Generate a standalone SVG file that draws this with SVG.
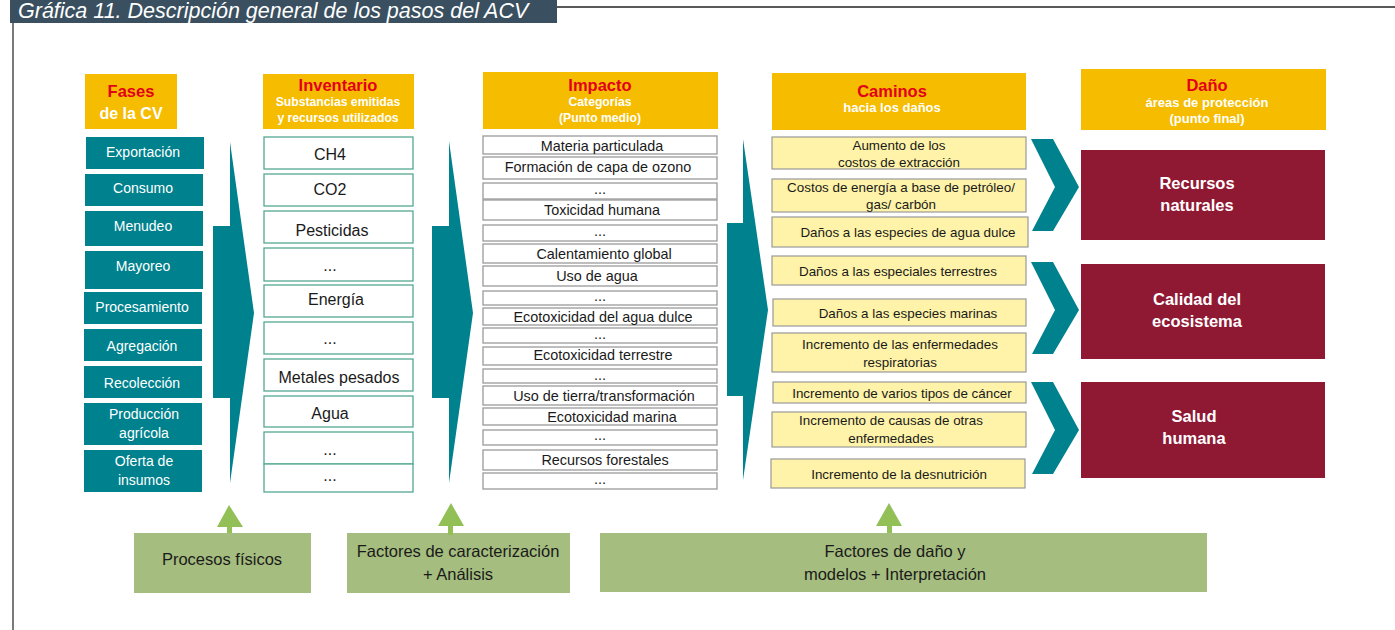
<svg xmlns="http://www.w3.org/2000/svg" width="1395" height="630" viewBox="0 0 1395 630">
<style>
text{font-family:"Liberation Sans",Arial,sans-serif;text-anchor:middle}
.hd{fill:#F5BC00}
.hr{fill:#E3001B;font-weight:bold;font-size:16.5px}
.hw{fill:#fff;font-weight:bold;font-size:12.2px}
.hw3{fill:#fff;font-weight:bold;font-size:13px}
.hw2{fill:#fff;font-weight:bold;font-size:16px}
.fase{fill:#00818E}
.ft{fill:#fff;font-size:14px}
.inv{fill:#fff;stroke:#55A891;stroke-width:1.3}
.it{fill:#1a1a1a;font-size:16px}
.imp{fill:#fff;stroke:#9a9a9a;stroke-width:1.3}
.mt{fill:#1a1a1a;font-size:14.4px}
.cam{fill:#FEF3A8;stroke:#999;stroke-width:1.2}
.ct{fill:#1a1a1a;font-size:13.4px}
.dan{fill:#8F1833}
.dt{fill:#fff;font-weight:bold;font-size:16.5px}
.big{fill:#00818E}
.grn{fill:#A5BD7E}
.gt{fill:#1a1a1a;font-size:16.5px}
.ga{fill:#92C057}
</style>
<rect width="1395" height="630" fill="#fff"/>
<g id="frame">
<rect x="10" y="0" width="547" height="23" fill="#3A5060"/>
<text x="18" y="18" style="text-anchor:start;font-style:italic;font-size:21.5px;fill:#fff">Gráfica 11. Descripción general de los pasos del ACV</text>
<line x1="557" y1="7" x2="1395" y2="7" stroke="#222" stroke-width="1.3"/>
<line x1="13" y1="23" x2="13" y2="630" stroke="#333" stroke-width="1.3"/>
</g>
<g id="headers">
<g id="h-fases"><rect class="hd" x="85" y="74" width="92" height="55"/><text class="hr" x="131" y="97">Fases</text><text class="hw2" x="131" y="119">de la CV</text></g>
<g id="h-inv"><rect class="hd" x="263" y="74" width="151" height="55"/><text class="hr" x="338" y="91">Inventario</text><text class="hw" x="338" y="106">Substancias emitidas</text><text class="hw" x="338" y="122">y recursos utilizados</text></g>
<g id="h-imp"><rect class="hd" x="483" y="72" width="235" height="57"/><text class="hr" x="600" y="91">Impacto</text><text class="hw" x="600" y="106">Categorías</text><text class="hw" x="600" y="122">(Punto medio)</text></g>
<g id="h-cam"><rect class="hd" x="772" y="73" width="254" height="57"/><text class="hr" x="892" y="97">Caminos</text><text class="hw3" x="892" y="112">hacia los daños</text></g>
<g id="h-dan"><rect class="hd" x="1081" y="69" width="245" height="61"/><text class="hr" x="1207" y="91">Daño</text><text class="hw3" x="1207" y="107">áreas de protección</text><text class="hw3" x="1207" y="123">(punto final)</text></g>
</g>
<g id="fases">
<g id="f1"><rect class="fase" x="86" y="137" width="118" height="32"/><text class="ft" x="143" y="157">Exportación</text></g>
<g id="f2"><rect class="fase" x="85" y="174" width="118" height="32"/><text class="ft" x="143" y="193">Consumo</text></g>
<g id="f3"><rect class="fase" x="85" y="211" width="118" height="35"/><text class="ft" x="143" y="231">Menudeo</text></g>
<g id="f4"><rect class="fase" x="85" y="251" width="118" height="38"/><text class="ft" x="143" y="271">Mayoreo</text></g>
<g id="f5"><rect class="fase" x="84" y="292" width="118" height="32"/><text class="ft" x="142" y="312">Procesamiento</text></g>
<g id="f6"><rect class="fase" x="84" y="329" width="118" height="32"/><text class="ft" x="142" y="351">Agregación</text></g>
<g id="f7"><rect class="fase" x="84" y="366" width="118" height="32"/><text class="ft" x="142" y="388">Recolección</text></g>
<g id="f8"><rect class="fase" x="84" y="403" width="118" height="42"/><text class="ft" x="144" y="419">Producción</text><text class="ft" x="144" y="438">agrícola</text></g>
<g id="f9"><rect class="fase" x="84" y="450" width="118" height="42"/><text class="ft" x="144" y="466">Oferta de</text><text class="ft" x="144" y="485">insumos</text></g>
</g>
<g id="inventario">
<g id="i1"><rect class="inv" x="264" y="137" width="149" height="32"/><text class="it" x="330" y="160">CH4</text></g>
<g id="i2"><rect class="inv" x="264" y="174" width="149" height="32"/><text class="it" x="330" y="195">CO2</text></g>
<g id="i3"><rect class="inv" x="264" y="211" width="149" height="32"/><text class="it" x="332" y="236">Pesticidas</text></g>
<g id="i4"><rect class="inv" x="264" y="248" width="149" height="33"/><text class="it" x="330" y="271">...</text></g>
<g id="i5"><rect class="inv" x="264" y="285" width="149" height="32"/><text class="it" x="336" y="305">Energía</text></g>
<g id="i6"><rect class="inv" x="264" y="322" width="149" height="32"/><text class="it" x="330" y="344">...</text></g>
<g id="i7"><rect class="inv" x="264" y="359" width="149" height="32"/><text class="it" x="339" y="383">Metales pesados</text></g>
<g id="i8"><rect class="inv" x="264" y="396" width="149" height="31"/><text class="it" x="330" y="419">Agua</text></g>
<g id="i9"><rect class="inv" x="264" y="432" width="149" height="32"/><text class="it" x="330" y="455">...</text></g>
<g id="i10"><rect class="inv" x="264" y="464" width="149" height="28"/><text class="it" x="330" y="481">...</text></g>
</g>
<g id="impacto">
<g id="m1"><rect class="imp" x="483" y="136" width="234" height="18"/><text class="mt" x="602" y="151">Materia particulada</text></g>
<g id="m2"><rect class="imp" x="483" y="157" width="234" height="22"/><text class="mt" x="598" y="172">Formación de capa de ozono</text></g>
<g id="m3"><rect class="imp" x="483" y="183" width="234" height="16"/><text class="mt" x="600" y="194">...</text></g>
<g id="m4"><rect class="imp" x="483" y="200" width="234" height="20"/><text class="mt" x="602" y="215">Toxicidad humana</text></g>
<g id="m5"><rect class="imp" x="483" y="225" width="234" height="16"/><text class="mt" x="600" y="236">...</text></g>
<g id="m6"><rect class="imp" x="483" y="244" width="234" height="19"/><text class="mt" x="604" y="259">Calentamiento global</text></g>
<g id="m7"><rect class="imp" x="483" y="266" width="234" height="20"/><text class="mt" x="597" y="281">Uso de agua</text></g>
<g id="m8"><rect class="imp" x="483" y="291" width="234" height="14"/><text class="mt" x="600" y="301">...</text></g>
<g id="m9"><rect class="imp" x="483" y="308" width="234" height="17"/><text class="mt" x="603" y="322">Ecotoxicidad del agua dulce</text></g>
<g id="m10"><rect class="imp" x="483" y="328" width="234" height="15"/><text class="mt" x="600" y="339">...</text></g>
<g id="m11"><rect class="imp" x="483" y="347" width="234" height="18"/><text class="mt" x="603" y="360">Ecotoxicidad terrestre</text></g>
<g id="m12"><rect class="imp" x="483" y="369" width="234" height="14"/><text class="mt" x="600" y="380">...</text></g>
<g id="m13"><rect class="imp" x="483" y="386" width="234" height="19"/><text class="mt" x="604" y="401">Uso de tierra/transformación</text></g>
<g id="m14"><rect class="imp" x="483" y="408" width="234" height="17"/><text class="mt" x="612" y="422">Ecotoxicidad marina</text></g>
<g id="m15"><rect class="imp" x="483" y="430" width="234" height="15"/><text class="mt" x="600" y="440">...</text></g>
<g id="m16"><rect class="imp" x="483" y="450" width="234" height="20"/><text class="mt" x="605" y="465">Recursos forestales</text></g>
<g id="m17"><rect class="imp" x="483" y="473" width="234" height="16"/><text class="mt" x="600" y="484">...</text></g>
</g>
<g id="caminos">
<g id="c1"><rect class="cam" x="772" y="137" width="254" height="32"/><text class="ct" x="899" y="150">Aumento de los</text><text class="ct" x="899" y="167">costos de extracción</text></g>
<g id="c2"><rect class="cam" x="772" y="179" width="254" height="33"/><text class="ct" x="901" y="192">Costos de energía a base de petróleo/</text><text class="ct" x="901" y="209">gas/ carbón</text></g>
<g id="c3"><rect class="cam" x="772" y="217" width="256" height="30"/><text class="ct" x="908" y="237">Daños a las especies de agua dulce</text></g>
<g id="c4"><rect class="cam" x="772" y="256" width="254" height="29"/><text class="ct" x="898" y="276">Daños a las especiales terrestres</text></g>
<g id="c5"><rect class="cam" x="773" y="299" width="253" height="27"/><text class="ct" x="908" y="318">Daños a las especies marinas</text></g>
<g id="c6"><rect class="cam" x="772" y="333" width="254" height="39"/><text class="ct" x="900" y="349">Incremento de las enfermedades</text><text class="ct" x="900" y="367">respiratorias</text></g>
<g id="c7"><rect class="cam" x="773" y="382" width="253" height="21"/><text class="ct" x="902" y="398">Incremento de varios tipos de cáncer</text></g>
<g id="c8"><rect class="cam" x="772" y="412" width="254" height="35"/><text class="ct" x="891" y="425">Incremento de causas de otras</text><text class="ct" x="891" y="443">enfermedades</text></g>
<g id="c9"><rect class="cam" x="771" y="459" width="254" height="29"/><text class="ct" x="899" y="479">Incremento de la desnutrición</text></g>
</g>
<g id="danos">
<g id="d1"><rect class="dan" x="1081" y="150" width="244" height="90"/><text class="dt" x="1197" y="189">Recursos</text><text class="dt" x="1197" y="211">naturales</text></g>
<g id="d2"><rect class="dan" x="1081" y="264" width="244" height="95"/><text class="dt" x="1197" y="305">Calidad del</text><text class="dt" x="1197" y="327">ecosistema</text></g>
<g id="d3"><rect class="dan" x="1081" y="382" width="244" height="96"/><text class="dt" x="1194" y="422">Salud</text><text class="dt" x="1194" y="444">humana</text></g>
</g>
<g id="bottom">
<g id="b1"><rect class="grn" x="134" y="533" width="177" height="60"/><text class="gt" x="222" y="565">Procesos físicos</text></g>
<g id="b2"><rect class="grn" x="347" y="533" width="223" height="60"/><text class="gt" x="458" y="557">Factores de caracterización</text><text class="gt" x="458" y="580">+ Análisis</text></g>
<g id="b3"><rect class="grn" x="600" y="533" width="607" height="59"/><text class="gt" x="895" y="557">Factores de daño y</text><text class="gt" x="895" y="580">modelos + Interpretación</text></g>
</g>
<g id="connectors">
<polygon class="big" points="230,142 254,313 230,483 230,398 213,398 213,226 230,226"/>
<polygon class="big" points="449,141 473,313 449,483 449,398 432,398 432,226 449,226"/>
<polygon class="big" points="743,139 768,310 743,480 743,396 727,396 727,223 743,223"/>
<polygon class="big" points="1031,139 1053,139 1079,187 1053,231 1032,231 1055,187"/>
<polygon class="big" points="1031,262 1053,262 1079,310 1053,354 1032,354 1055,310"/>
<polygon class="big" points="1031,382 1053,382 1079,430 1053,474 1032,474 1055,430"/>
<polygon class="ga" points="229,505 243,527 232,527 232,533 227,533 227,527 217,527"/>
<polygon class="ga" points="451,503 464,526 453,526 453,535 448,535 448,526 438,526"/>
<polygon class="ga" points="889,503 902,526 892,526 892,533 887,533 887,526 876,526"/>
</g>
</svg>
